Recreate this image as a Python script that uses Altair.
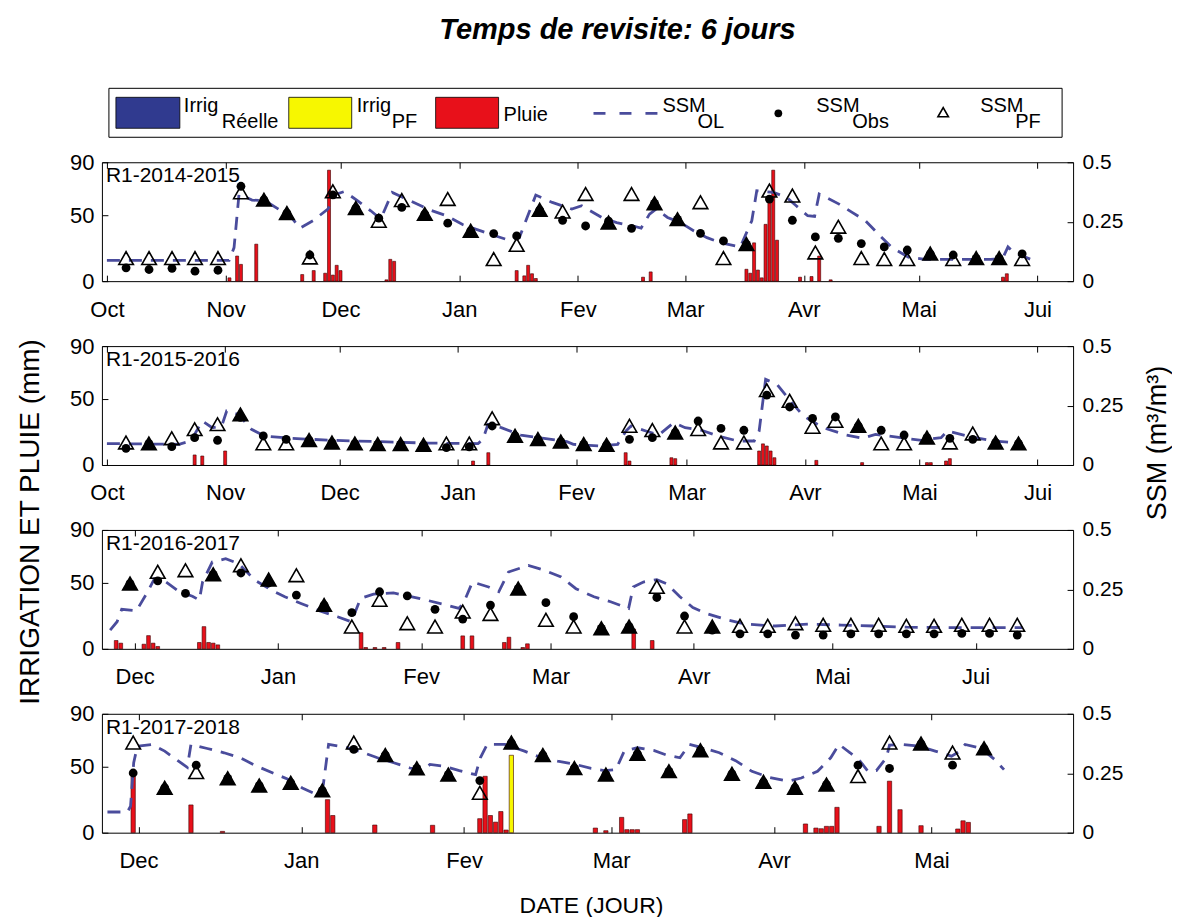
import altair as alt
import pandas as pd

# ---------------- Données ----------------
MOIS = ["Jan", "Fev", "Mar", "Avr", "Mai", "Jui", "Jul", "Aou", "Sep", "Oct", "Nov", "Dec"]
TYPES = ["Irrig Réelle", "Irrig PF", "Pluie"]
COULEURS = ["#303a8f", "#f7f700", "#e8101a"]
OL_COULEUR = "#4a4c9c"

# ---- R1-2014-2015 (jours comptés depuis le 1er octobre 2014)
P1_REF = "2014-10-01"
P1_DOMAINE = ["2014-10-01", "2015-06-09"]
P1_TICKS = ["2014-10-01", "2014-11-01", "2014-12-01", "2015-01-01", "2015-02-01",
            "2015-03-01", "2015-04-01", "2015-05-01", "2015-06-01"]
P1_JOURS = [5, 11, 17, 23, 29, 35, 41, 47, 53, 59, 65, 71, 77, 83, 89, 95, 101, 107, 113, 119,
            125, 131, 137, 143, 149, 155, 161, 167, 173, 179, 185, 191, 197, 203, 209, 215, 221, 227, 233, 239]
P1_OBS = [0.056, 0.049, 0.054, 0.042, 0.046, 0.399, 0.342, 0.286, 0.110, 0.363, 0.307, 0.265, 0.310, 0.282,
          0.244, 0.211, 0.200, 0.190, 0.299, 0.256, 0.232, 0.252, 0.222, 0.327, 0.260, 0.201, 0.169, 0.155,
          0.345, 0.256, 0.186, 0.180, 0.158, 0.144, 0.131, 0.115, 0.110, 0.096, 0.096, 0.115]
P1_PF = [0.096, 0.096, 0.096, 0.096, 0.096, 0.373, 0.342, 0.286, 0.099, 0.377, 0.307, 0.253, 0.340, 0.282,
         0.345, 0.211, 0.092, 0.152, 0.299, 0.292, 0.366, 0.246, 0.366, 0.327, 0.260, 0.331, 0.096, 0.155,
         0.380, 0.359, 0.120, 0.228, 0.096, 0.092, 0.092, 0.115, 0.092, 0.096, 0.096, 0.092]
P1_PLEIN = [0, 0, 0, 0, 0, 0, 1, 1, 0, 0, 1, 0, 0, 1, 0, 1, 0, 0, 1, 0,
            0, 1, 0, 1, 1, 0, 0, 1, 0, 0, 0, 0, 0, 0, 0, 1, 0, 1, 1, 0]
P1_OL_J = [0, 31.9, 33.2, 34.5, 37.9, 41.3, 44.8, 48.2, 50.4, 53.8, 57.7, 59.9, 62.0, 65.5, 68.9, 71.5, 72.8,
           74.5, 79.2, 84.4, 88.7, 93.0, 98.2, 104.2, 107.7, 109.4, 112.0, 116.3, 121.4, 124.0, 129.2, 133.1,
           137.4, 139.5, 141.7, 143.4, 146.4, 149.8, 153.3, 156.7, 160.2, 165.4, 168.4, 169.7, 174.1, 177.5,
           180.0, 183.0, 184.8, 186.0, 187.8, 191.2, 194.6, 198.1, 201.5, 205.0, 209.3, 213.6, 222.2, 230.8,
           233.9, 235.3, 236.9, 241.2]
P1_OL_V = [0.087, 0.087, 0.141, 0.366, 0.341, 0.338, 0.303, 0.268, 0.223, 0.254, 0.303, 0.366, 0.377, 0.338,
           0.296, 0.261, 0.310, 0.373, 0.338, 0.299, 0.275, 0.237, 0.208, 0.176, 0.183, 0.254, 0.362, 0.331,
           0.303, 0.317, 0.268, 0.246, 0.232, 0.223, 0.282, 0.303, 0.268, 0.246, 0.211, 0.183, 0.162, 0.144,
           0.254, 0.380, 0.373, 0.352, 0.317, 0.275, 0.272, 0.366, 0.352, 0.324, 0.289, 0.254, 0.197, 0.141,
           0.101, 0.092, 0.092, 0.092, 0.096, 0.144, 0.120, 0.092]
P1_PLUIE_J = [32, 34, 35, 39, 51, 54, 57, 58, 59, 60, 61, 73, 74, 75, 107, 109, 110, 111, 112, 140, 142,
              167, 168, 169, 170, 171, 172, 173, 174, 175, 181, 184, 186, 189, 234, 235]
P1_PLUIE_MM = [2.5, 19, 12.7, 28, 5, 8, 6, 84, 4.6, 12, 8, 1, 16.5, 15, 8, 4, 12, 5.6, 2, 3, 7,
               9, 6, 29, 8.4, 2.5, 43, 63, 84, 31, 3, 3.5, 19, 1, 3, 5.6]

# ---- R1-2015-2016 (jours depuis le 1er octobre 2015)
P2_REF = "2015-10-01"
P2_DOMAINE = ["2015-10-01", "2016-06-09"]
P2_TICKS = ["2015-10-01", "2015-11-01", "2015-12-01", "2016-01-01", "2016-02-01",
            "2016-03-01", "2016-04-01", "2016-05-01", "2016-06-01"]
P2_JOURS = P1_JOURS
P2_OBS = [0.070, 0.090, 0.077, 0.115, 0.104, 0.200, 0.122, 0.108, 0.104, 0.094, 0.090, 0.087, 0.087, 0.084,
          0.073, 0.076, 0.164, 0.122, 0.108, 0.098, 0.087, 0.084, 0.108, 0.115, 0.136, 0.185, 0.154, 0.146,
          0.294, 0.244, 0.196, 0.202, 0.164, 0.146, 0.126, 0.115, 0.112, 0.108, 0.094, 0.090]
P2_PF = [0.094, 0.090, 0.112, 0.150, 0.171, 0.212, 0.090, 0.090, 0.104, 0.094, 0.090, 0.087, 0.087, 0.084,
         0.090, 0.090, 0.196, 0.122, 0.108, 0.098, 0.087, 0.084, 0.164, 0.146, 0.136, 0.150, 0.094, 0.094,
         0.314, 0.269, 0.160, 0.185, 0.164, 0.090, 0.090, 0.115, 0.094, 0.132, 0.094, 0.090]
P2_PLEIN = [0, 1, 0, 0, 0, 1, 0, 0, 1, 1, 1, 1, 1, 1, 0, 0, 0, 1, 1, 1,
            1, 1, 0, 0, 1, 0, 0, 0, 0, 0, 0, 0, 1, 0, 0, 1, 0, 0, 1, 1]
P2_OL_J = [0, 18.9, 22.0, 25.0, 27.6, 30.1, 31.4, 34.5, 37.9, 41.3, 48.2, 58.6, 71.5, 84.4, 97.3, 98.6, 99.9,
           103.4, 108.5, 114.6, 120.6, 122.3, 129.2, 133.9, 136.1, 137.4, 141.3, 144.7, 148.6, 151.6, 155.9,
           160.2, 165.4, 169.7, 171.0, 172.7, 175.7, 179.2, 182.6, 187.8, 193.8, 198.1, 201.5, 209.3, 213.6,
           218.7, 220.4, 226.5, 232.5, 238.5]
P2_OL_V = [0.090, 0.087, 0.101, 0.185, 0.157, 0.164, 0.227, 0.213, 0.150, 0.122, 0.112, 0.104, 0.098, 0.092,
           0.090, 0.108, 0.171, 0.157, 0.126, 0.112, 0.098, 0.087, 0.080, 0.087, 0.143, 0.164, 0.143, 0.126,
           0.178, 0.157, 0.146, 0.122, 0.101, 0.101, 0.143, 0.360, 0.339, 0.269, 0.206, 0.157, 0.126, 0.112,
           0.129, 0.112, 0.104, 0.115, 0.143, 0.118, 0.101, 0.094]
P2_PLUIE_J = [23, 25, 31, 96, 100, 136, 137, 148, 149, 171, 172, 173, 174, 175, 186, 198, 215, 216, 220, 221]
P2_PLUIE_MM = [7.6, 6.8, 10.6, 3, 9.3, 9.3, 3, 5.5, 4.8, 10.6, 16, 14.4, 10.6, 5.5, 3.5, 1.8, 1.8, 1.8, 3, 4.8]

# ---- R1-2016-2017 (jours depuis le 1er décembre 2016)
P3_REF = "2016-12-01"
P3_DOMAINE = ["2016-11-25", "2017-06-21"]
P3_TICKS = ["2016-12-01", "2017-01-01", "2017-02-01", "2017-03-01", "2017-04-01", "2017-05-01", "2017-06-01"]
P3_JOURS = [-1, 5, 11, 17, 23, 29, 35, 41, 47, 53, 59, 65, 71, 77, 83, 89, 95, 101, 107, 113, 119, 125,
            131, 137, 143, 149, 155, 161, 167, 173, 179, 185, 191]
P3_OBS = [0.274, 0.286, 0.233, 0.313, 0.319, 0.277, 0.226, 0.184, 0.152, 0.240, 0.223, 0.166, 0.125, 0.184,
          0.253, 0.194, 0.135, 0.086, 0.093, 0.216, 0.138, 0.079, 0.063, 0.063, 0.058, 0.058, 0.063, 0.063,
          0.063, 0.063, 0.065, 0.065, 0.058]
P3_PF = [0.274, 0.323, 0.330, 0.313, 0.351, 0.291, 0.309, 0.184, 0.093, 0.205, 0.107, 0.093, 0.156, 0.146,
         0.253, 0.121, 0.093, 0.086, 0.093, 0.260, 0.093, 0.093, 0.096, 0.096, 0.107, 0.100, 0.100, 0.100,
         0.096, 0.096, 0.100, 0.100, 0.100]
P3_PLEIN = [1, 0, 0, 1, 0, 1, 0, 1, 0, 0, 0, 0, 0, 0, 1, 0, 0, 1, 1, 0, 0, 1,
            0, 0, 0, 0, 0, 0, 0, 0, 0, 0, 0]
P3_OL_J = [-5.3, -3.8, -2.8, 0.4, 2.6, 4.3, 6.8, 9.7, 12.5, 14.0, 14.7, 16.8, 19.7, 22.5, 26.1, 29.6, 32.5,
           36.0, 39.6, 43.9, 46.9, 48.9, 51.7, 56.0, 59.5, 63.1, 66.7, 70.2, 71.3, 73.1, 76.6, 78.8, 80.9,
           85.2, 88.7, 92.3, 95.5, 99.4, 103.0, 106.9, 107.9, 110.1, 113.0, 115.1, 118.0, 120.8, 123.7,
           127.9, 132.2, 138.6, 145.7, 152.9, 160.0, 167.1, 177.8, 192.1]
P3_OL_V = [0.079, 0.114, 0.166, 0.160, 0.233, 0.295, 0.281, 0.240, 0.221, 0.205, 0.281, 0.365, 0.379, 0.358,
           0.288, 0.247, 0.219, 0.191, 0.163, 0.135, 0.114, 0.212, 0.230, 0.235, 0.221, 0.205, 0.188, 0.170,
           0.198, 0.281, 0.260, 0.240, 0.323, 0.351, 0.330, 0.302, 0.253, 0.219, 0.198, 0.170, 0.260, 0.281,
           0.291, 0.274, 0.219, 0.174, 0.149, 0.124, 0.104, 0.096, 0.104, 0.100, 0.096, 0.091, 0.089, 0.089]
P3_PLUIE_J = [-4, -3, 2, 3, 4, 5, 14, 15, 16, 17, 18, 49, 50, 52, 54, 57, 71, 73, 80, 81, 84, 85, 108, 112]
P3_PLUIE_MM = [6.3, 4.3, 3.5, 10, 4.3, 1.8, 4.8, 16.8, 4.8, 4.3, 3, 12.3, 1, 1, 1, 4.8, 9.8, 9.8, 4.8, 8.8,
               1, 3.8, 15, 6.3]

# ---- R1-2017-2018 (jours depuis le 1er décembre 2017)
P4_REF = "2017-12-01"
P4_DOMAINE = ["2017-11-25", "2018-05-27"]
P4_TICKS = ["2017-12-01", "2018-01-01", "2018-02-01", "2018-03-01", "2018-04-01", "2018-05-01"]
P4_JOURS = [-1, 5, 11, 17, 23, 29, 35, 41, 47, 53, 59, 65, 71, 77, 83, 89, 95, 101, 107, 113, 119, 125,
            131, 137, 143, 149, 155, 161]
P4_OBS = [0.251, 0.188, 0.284, 0.228, 0.198, 0.209, 0.177, 0.350, 0.326, 0.270, 0.244, 0.219, 0.378, 0.326,
          0.271, 0.244, 0.331, 0.258, 0.346, 0.247, 0.213, 0.188, 0.202, 0.284, 0.270, 0.374, 0.284, 0.354]
P4_PF = [0.378, 0.188, 0.254, 0.228, 0.198, 0.209, 0.177, 0.378, 0.326, 0.270, 0.244, 0.167, 0.378, 0.326,
         0.271, 0.244, 0.331, 0.258, 0.346, 0.247, 0.213, 0.188, 0.202, 0.237, 0.378, 0.374, 0.336, 0.354]
P4_PLEIN = [0, 1, 0, 1, 1, 1, 1, 0, 1, 1, 1, 0, 1, 1, 1, 1, 1, 1, 1, 1, 1, 1, 1, 0, 0, 1, 0, 1]
P4_OL_J = [-5.9, -2.1, -1.5, -0.9, -0.2, 2.6, 5.0, 7.5, 9.3, 10.0, 13.1, 16.3, 19.4, 22.5, 25.6, 28.7, 31.2,
           34.0, 35.2, 36.2, 39.3, 42.4, 45.5, 48.6, 51.7, 54.2, 55.5, 58.0, 61.1, 64.2, 65.1, 66.4, 69.8,
           73.5, 76.7, 79.8, 82.9, 86.2, 88.7, 90.9, 92.5, 95.0, 98.1, 100.6, 103.1, 104.9, 107.4, 110.6,
           113.7, 116.8, 120.0, 123.7, 126.2, 129.3, 131.8, 133.4, 135.5, 137.4, 138.9, 140.5, 142.4, 143.0,
           145.5, 148.6, 151.7, 154.8, 156.4, 157.4, 160.5, 163.0, 164.8]
P4_OL_V = [0.087, 0.087, 0.111, 0.294, 0.364, 0.371, 0.343, 0.303, 0.275, 0.371, 0.354, 0.336, 0.315, 0.280,
           0.251, 0.223, 0.188, 0.160, 0.202, 0.371, 0.360, 0.340, 0.315, 0.294, 0.272, 0.261, 0.287, 0.280,
           0.261, 0.244, 0.315, 0.371, 0.371, 0.343, 0.315, 0.301, 0.289, 0.270, 0.261, 0.265, 0.343, 0.357,
           0.346, 0.326, 0.315, 0.371, 0.357, 0.336, 0.303, 0.258, 0.233, 0.216, 0.230, 0.258, 0.315, 0.371,
           0.336, 0.301, 0.258, 0.261, 0.315, 0.368, 0.371, 0.364, 0.343, 0.322, 0.343, 0.371, 0.354, 0.308,
           0.265]
P4_PLUIE_J = [-1, 10, 16, 36, 37, 45, 56, 65, 66, 67, 68, 69, 70, 87, 89, 92, 93, 94, 95, 104, 105, 127,
              129, 130, 131, 132, 133, 141, 143, 145, 149, 156, 157, 158]
P4_PLUIE_MM = [46.5, 21, 1, 25, 13, 5.8, 5.6, 10.6, 42.7, 13, 8, 16, 2, 3.5, 1.5, 11.6, 2.3, 2.3, 2.3, 9.9,
               14.2, 6.6, 3.5, 3, 4.8, 4.8, 19.2, 4.8, 39, 17.4, 5.3, 2.8, 9, 7.8]
P4_IRRIG_PF_J = [71]
P4_IRRIG_PF_MM = [58.6]

# ---------------- Mise en forme ----------------
FONT = "Liberation Sans"
W, H = 972, 119
TICK = 6
TRI = "M-1,0.85L0,-0.9L1,0.85Z"
LABEL_EXPR = "[" + ",".join("'%s'" % m for m in MOIS) + "][month(datum.value)]"


def dt(s):
    y, m, d = (int(v) for v in s.split("-"))
    return alt.DateTime(year=y, month=m, date=d)


def en_dates(ref, jours):
    base = pd.Timestamp(ref)
    return [base + pd.Timedelta(days=float(j)) for j in jours]


def texte(s, x, y, **kw):
    return alt.Chart(pd.DataFrame({"t": [s]})).mark_text(font=FONT, color="black", **kw).encode(
        x=alt.value(x), y=alt.value(y), text="t:N")


def panneau(ref, domaine, ticks, jours, obs, pf, plein, ol_j, ol_v, pl_j, pl_mm,
            ipf_j, ipf_mm, ir_j, ir_mm, nom, largeur, extras=()):
    xsc = alt.Scale(domain=[dt(domaine[0]), dt(domaine[1])], nice=False)
    ssm_sc = alt.Scale(domain=[0, 0.5], nice=False)
    vals = [dt(t) for t in ticks]
    ax_bas = alt.Axis(orient="bottom", values=vals, labelExpr=LABEL_EXPR, title=None, offset=-TICK,
                      tickSize=TICK, domain=False, grid=False, labelPadding=18, labelFontSize=22,
                      labelFlush=False, labelOverlap=False)
    ax_haut = alt.Axis(orient="top", values=vals, labels=False, title=None, offset=-TICK,
                       tickSize=TICK, domain=False, grid=False)
    ax_g = alt.Axis(orient="left", values=[0, 50, 90], format=".0f", title=None, offset=-TICK,
                    tickSize=TICK, domain=False, grid=False, labelPadding=8, labelFontSize=22,
                    labelFlush=False)
    ax_d = alt.Axis(orient="right", values=[0, 0.25, 0.5], format=".2~f", title=None, offset=-TICK,
                    tickSize=TICK, domain=False, grid=False, labelPadding=9, labelFontSize=21,
                    labelFlush=False)

    barres_df = pd.DataFrame({
        "date": en_dates(ref, ir_j) + en_dates(ref, ipf_j) + en_dates(ref, pl_j),
        "mm": list(ir_mm) + list(ipf_mm) + list(pl_mm),
        "type": ["Irrig Réelle"] * len(ir_j) + ["Irrig PF"] * len(ipf_j) + ["Pluie"] * len(pl_j),
    })
    pts = pd.DataFrame({"date": en_dates(ref, jours), "obs": obs, "pf": pf, "plein": plein})
    ol_df = pd.DataFrame({"date": en_dates(ref, ol_j), "ssm": ol_v})

    barres = alt.Chart(barres_df).mark_bar(size=largeur, stroke="#3a0000", strokeWidth=0.6).encode(
        x=alt.X("date:T", scale=xsc, axis=ax_bas),
        y=alt.Y("mm:Q", scale=alt.Scale(domain=[0, 90], nice=False), axis=ax_g),
        color=alt.Color("type:N", scale=alt.Scale(domain=TYPES, range=COULEURS), legend=None),
    )
    ol = alt.Chart(ol_df).mark_line(color=OL_COULEUR, strokeWidth=2.8, strokeDash=[13, 9]).encode(
        x=alt.X("date:T", scale=xsc, axis=ax_haut),
        y=alt.Y("ssm:Q", scale=ssm_sc, axis=ax_d),
    )
    tri = alt.Chart(pts).mark_point(shape=TRI, size=215, strokeWidth=1.6, stroke="black",
                                    filled=True, opacity=1).encode(
        x=alt.X("date:T", scale=xsc, axis=ax_haut),
        y=alt.Y("pf:Q", scale=ssm_sc, axis=ax_d),
        fill=alt.condition("datum.plein == 1", alt.value("black"), alt.value("transparent")),
    )
    pts_obs = alt.Chart(pts).mark_circle(size=78, color="black", opacity=1).encode(
        x=alt.X("date:T", scale=xsc, axis=ax_haut),
        y=alt.Y("obs:Q", scale=ssm_sc, axis=ax_d),
    )
    ssm = alt.layer(ol, tri, pts_obs)
    etiquette = texte(nom, 4, 3, align="left", baseline="top", fontSize=21)
    return (alt.layer(barres, ssm, etiquette, *extras)
            .resolve_scale(y="independent")
            .resolve_axis(x="independent")
            .properties(width=W, height=H))


def legende():
    un = pd.DataFrame({"a": [0]})
    couches = [
        texte("Temps de revisite: 6 jours", 516, -58, align="center", baseline="middle",
              fontSize=29, fontWeight="bold", fontStyle="italic"),
        alt.Chart(un).mark_rect(fill="white", stroke="black", strokeWidth=1).encode(
            x=alt.value(7), x2=alt.value(961), y=alt.value(0), y2=alt.value(49)),
    ]
    for (x0, x1), col in zip([(14, 78), (187, 250), (334, 397)], COULEURS):
        couches.append(alt.Chart(un).mark_rect(fill=col, stroke="black", strokeWidth=0.8).encode(
            x=alt.value(x0), x2=alt.value(x1), y=alt.value(9), y2=alt.value(40)))
    couches.append(alt.Chart(un).mark_rule(color=OL_COULEUR, strokeWidth=2.8, strokeDash=[12, 14]).encode(
        x=alt.value(492), x2=alt.value(556), y=alt.value(25)))
    couches.append(alt.Chart(un).mark_circle(size=60, color="black", opacity=1).encode(
        x=alt.value(677), y=alt.value(25)))
    couches.append(alt.Chart(un).mark_point(shape=TRI, size=110, strokeWidth=1.6, color="black",
                                            opacity=1).encode(x=alt.value(842), y=alt.value(24)))
    for s, x, y in [("Irrig", 82, 24), ("Réelle", 120, 40),
                    ("Irrig", 255, 24), ("PF", 290, 40),
                    ("Pluie", 402, 33),
                    ("SSM", 561, 24), ("OL", 596, 40),
                    ("SSM", 715, 24), ("Obs", 751, 40),
                    ("SSM", 879, 24), ("PF", 914, 40)]:
        couches.append(texte(s, x, y, align="left", baseline="alphabetic", fontSize=20))
    return alt.layer(*couches).properties(width=W, height=9,
                                           view=alt.ViewBackground(stroke="transparent"))


p1 = panneau(P1_REF, P1_DOMAINE, P1_TICKS, P1_JOURS, P1_OBS, P1_PF, P1_PLEIN, P1_OL_J, P1_OL_V,
             P1_PLUIE_J, P1_PLUIE_MM, [], [], [], [], "R1-2014-2015", 3)
p2 = panneau(P2_REF, P2_DOMAINE, P2_TICKS, P2_JOURS, P2_OBS, P2_PF, P2_PLEIN, P2_OL_J, P2_OL_V,
             P2_PLUIE_J, P2_PLUIE_MM, [], [], [], [], "R1-2015-2016", 3,
             extras=[texte("SSM (m³/m³)", 1057, 97, align="center", baseline="middle",
                           fontSize=27, angle=270)])
p3 = panneau(P3_REF, P3_DOMAINE, P3_TICKS, P3_JOURS, P3_OBS, P3_PF, P3_PLEIN, P3_OL_J, P3_OL_V,
             P3_PLUIE_J, P3_PLUIE_MM, [], [], [], [], "R1-2016-2017", 3.7,
             extras=[texte("IRRIGATION ET PLUIE (mm)", -71, -8, align="center", baseline="middle",
                           fontSize=28, angle=270)])
p4 = panneau(P4_REF, P4_DOMAINE, P4_TICKS, P4_JOURS, P4_OBS, P4_PF, P4_PLEIN, P4_OL_J, P4_OL_V,
             P4_PLUIE_J, P4_PLUIE_MM, P4_IRRIG_PF_J, P4_IRRIG_PF_MM, [], [], "R1-2017-2018", 4.3,
             extras=[texte("DATE (JOUR)", 490, 192, align="center", baseline="middle", fontSize=23)])

chart = (alt.vconcat(legende(), p1, p2, p3, p4, spacing=65, bounds="flush")
         .properties(padding={"left": 8, "top": 7, "right": 0, "bottom": 0})
         .configure_view(stroke="black", strokeWidth=1)
         .configure_axis(labelFont=FONT, labelColor="black", tickColor="black", tickWidth=1)
         .configure_text(font=FONT))

chart.save("out.html", embed_options={"renderer": "svg", "actions": False})
